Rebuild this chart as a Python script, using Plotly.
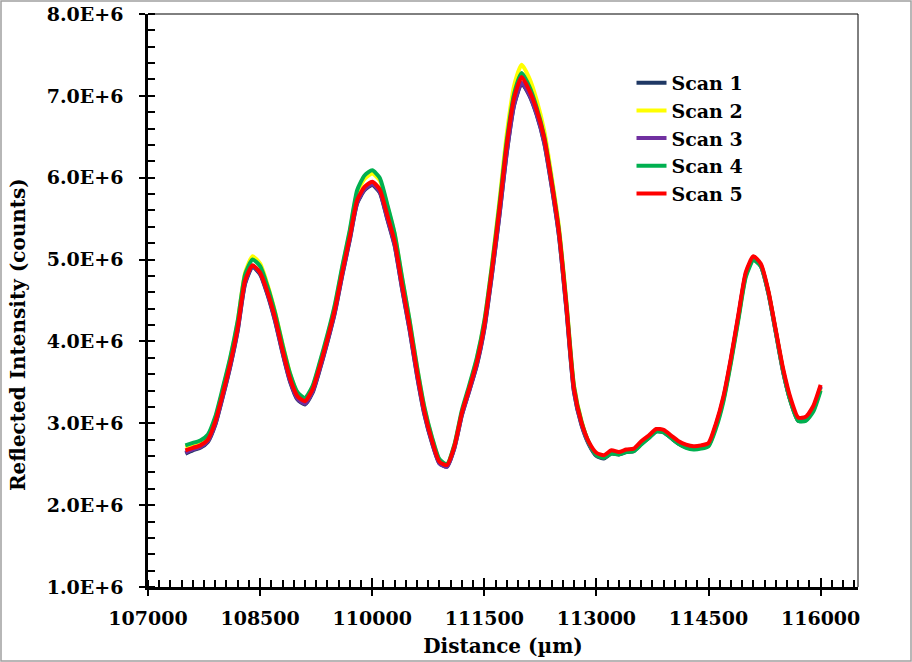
import plotly.graph_objects as go

# Distance grid (µm)
distance = list(range(107500, 116001, 100))

# Reflected intensity, in units of 1E+6 counts
scan1 = [2.63, 2.67, 2.70, 2.77, 2.98, 3.32, 3.69, 4.13, 4.71, 4.91,
         4.82, 4.57, 4.25, 3.86, 3.51, 3.29, 3.23,
         3.37, 3.66, 3.99, 4.35, 4.81, 5.24, 5.69, 5.85, 5.91,
         5.82, 5.50, 5.17, 4.64, 4.14, 3.58, 3.10, 2.76, 2.51, 2.47,
         2.70, 3.10, 3.40, 3.71, 4.15, 4.80, 5.52, 6.30, 6.89, 7.15,
         7.01, 6.77, 6.43, 5.90, 5.28, 4.37, 3.38, 2.98, 2.74, 2.60,
         2.57, 2.63, 2.62, 2.65, 2.66, 2.75, 2.82, 2.90, 2.89, 2.82,
         2.75, 2.71, 2.69, 2.70, 2.73, 2.97, 3.30, 3.77, 4.30, 4.82,
         5.01, 4.92, 4.59, 4.11, 3.62, 3.26, 3.03, 3.04, 3.17, 3.44]
scan2 = [2.71, 2.74, 2.77, 2.84, 3.06, 3.41, 3.79, 4.24, 4.84, 5.04,
         4.95, 4.69, 4.36, 3.97, 3.61, 3.37, 3.30,
         3.44, 3.73, 4.06, 4.43, 4.90, 5.34, 5.82, 5.99, 6.05,
         5.97, 5.66, 5.31, 4.77, 4.25, 3.68, 3.18, 2.82, 2.55, 2.50,
         2.73, 3.14, 3.45, 3.79, 4.24, 4.92, 5.70, 6.53, 7.13, 7.38,
         7.22, 6.95, 6.58, 6.02, 5.39, 4.47, 3.46, 3.03, 2.76, 2.62,
         2.59, 2.64, 2.63, 2.66, 2.67, 2.75, 2.83, 2.91, 2.90, 2.83,
         2.76, 2.71, 2.69, 2.70, 2.73, 2.96, 3.29, 3.76, 4.29, 4.81,
         5.01, 4.93, 4.61, 4.13, 3.64, 3.27, 3.04, 3.04, 3.16, 3.42]
scan3 = [2.64, 2.68, 2.71, 2.78, 2.99, 3.33, 3.70, 4.14, 4.72, 4.92,
         4.83, 4.58, 4.26, 3.87, 3.52, 3.30, 3.24,
         3.38, 3.67, 4.00, 4.36, 4.82, 5.25, 5.70, 5.86, 5.92,
         5.83, 5.51, 5.18, 4.65, 4.15, 3.59, 3.11, 2.77, 2.51, 2.47,
         2.70, 3.10, 3.40, 3.72, 4.16, 4.81, 5.53, 6.31, 6.90, 7.16,
         7.02, 6.78, 6.44, 5.91, 5.29, 4.38, 3.39, 2.99, 2.75, 2.61,
         2.58, 2.64, 2.63, 2.66, 2.67, 2.76, 2.83, 2.91, 2.90, 2.83,
         2.76, 2.72, 2.70, 2.71, 2.74, 2.98, 3.31, 3.78, 4.31, 4.83,
         5.02, 4.93, 4.60, 4.12, 3.63, 3.27, 3.04, 3.05, 3.18, 3.45]
scan4 = [2.73, 2.76, 2.79, 2.86, 3.08, 3.43, 3.80, 4.25, 4.82, 5.00,
         4.92, 4.67, 4.35, 3.96, 3.61, 3.38, 3.31,
         3.45, 3.75, 4.08, 4.45, 4.92, 5.36, 5.85, 6.03, 6.09,
         6.00, 5.68, 5.32, 4.78, 4.26, 3.69, 3.19, 2.83, 2.56, 2.50,
         2.74, 3.16, 3.47, 3.80, 4.25, 4.91, 5.65, 6.45, 7.03, 7.28,
         7.12, 6.86, 6.51, 5.97, 5.35, 4.45, 3.45, 3.02, 2.76, 2.61,
         2.58, 2.63, 2.62, 2.65, 2.66, 2.74, 2.82, 2.90, 2.89, 2.82,
         2.75, 2.70, 2.68, 2.69, 2.72, 2.94, 3.27, 3.74, 4.27, 4.79,
         4.99, 4.92, 4.60, 4.12, 3.63, 3.26, 3.03, 3.03, 3.14, 3.40]
scan5 = [2.67, 2.70, 2.73, 2.80, 3.02, 3.36, 3.73, 4.17, 4.75, 4.93,
         4.84, 4.60, 4.29, 3.90, 3.55, 3.33, 3.27,
         3.41, 3.70, 4.03, 4.39, 4.85, 5.28, 5.73, 5.89, 5.95,
         5.86, 5.55, 5.22, 4.69, 4.19, 3.63, 3.14, 2.79, 2.53, 2.49,
         2.72, 3.13, 3.43, 3.75, 4.20, 4.86, 5.60, 6.40, 6.98, 7.23,
         7.07, 6.83, 6.49, 5.95, 5.33, 4.42, 3.42, 3.01, 2.77, 2.64,
         2.61, 2.67, 2.65, 2.68, 2.69, 2.78, 2.85, 2.93, 2.92, 2.85,
         2.78, 2.74, 2.72, 2.73, 2.76, 3.00, 3.33, 3.80, 4.33, 4.85,
         5.04, 4.95, 4.62, 4.14, 3.66, 3.30, 3.07, 3.08, 3.21, 3.47]

series_names = ["Scan 1", "Scan 2", "Scan 3", "Scan 4", "Scan 5"]
series_values = [scan1, scan2, scan3, scan4, scan5]
series_colors = ["#1F3864", "#FFFF00", "#7030A0", "#00B050", "#FF0000"]

y_tickvals = [1e6, 2e6, 3e6, 4e6, 5e6, 6e6, 7e6, 8e6]
y_ticktext = ["1.0E+6", "2.0E+6", "3.0E+6", "4.0E+6", "5.0E+6", "6.0E+6", "7.0E+6", "8.0E+6"]
x_tickvals = [107000, 108500, 110000, 111500, 113000, 114500, 116000]
x_ticktext = ["107000", "108500", "110000", "111500", "113000", "114500", "116000"]

FONT = "DejaVu Serif"
BOLD = dict(family=FONT, size=19, color="black", weight="bold")
TITLEF = dict(family=FONT, size=20, color="black", weight="bold")

fig = go.Figure()
for name, vals, col in zip(series_names, series_values, series_colors):
    fig.add_trace(go.Scatter(
        x=distance, y=[v * 1e6 for v in vals], name=name, mode="lines",
        line=dict(color=col, width=4, shape="spline", smoothing=0.6)))

# invisible trace to activate overlay axes (inside half of crossing major ticks)
fig.add_trace(go.Scatter(x=[None], y=[None], xaxis="x2", yaxis="y2",
                         showlegend=False, hoverinfo="skip"))

W, H = 912, 662
L, R, T, B = 148, 54, 14, 75
pw, ph = W - L - R, H - T - B

fig.update_layout(
    width=W, height=H,
    margin=dict(l=L, r=R, t=T, b=B, autoexpand=False),
    paper_bgcolor="white", plot_bgcolor="white",
    font=BOLD,
    showlegend=True,
    legend=dict(x=0.681, y=0.913, xanchor="left", yanchor="top",
                bgcolor="rgba(0,0,0,0)", font=BOLD,
                itemwidth=30, tracegroupgap=0),
    xaxis=dict(range=[107000, 116500], tickvals=x_tickvals, ticktext=x_ticktext,
               ticks="outside", ticklen=6, tickwidth=2, tickcolor="black",
               showline=True, linewidth=2.5, linecolor="black",
               showgrid=False, zeroline=False, automargin=False,
               ticklabelstandoff=6,
               minor=dict(dtick=150, tick0=107000, ticks="inside", ticklen=7,
                          tickwidth=2, tickcolor="black", showgrid=False),
               tickfont=BOLD,
               title=dict(text="Distance (µm)", standoff=12, font=TITLEF)),
    yaxis=dict(range=[1e6, 8e6], tickvals=y_tickvals, ticktext=y_ticktext,
               ticks="outside", ticklen=6, tickwidth=2, tickcolor="black",
               showline=True, linewidth=2.5, linecolor="black",
               showgrid=False, zeroline=False, automargin=False,
               ticklabelstandoff=12,
               minor=dict(dtick=2e5, tick0=1e6, ticks="inside", ticklen=7,
                          tickwidth=2, tickcolor="black", showgrid=False),
               tickfont=BOLD),
    xaxis2=dict(overlaying="x", anchor="y", side="bottom", range=[107000, 116500],
                tickvals=x_tickvals, ticks="inside", ticklen=9, tickwidth=2,
                tickcolor="black", showticklabels=False, showline=False,
                showgrid=False, zeroline=False, automargin=False),
    yaxis2=dict(overlaying="y", anchor="x", side="left", range=[1e6, 8e6],
                tickvals=y_tickvals, ticks="inside", ticklen=7, tickwidth=2,
                tickcolor="black", showticklabels=False, showline=False,
                showgrid=False, zeroline=False, automargin=False),
)

# y-axis title (placed like the original, slightly below the plot centre)
fig.add_annotation(text="Reflected Intensity (counts)", textangle=-90,
                   xref="paper", yref="paper", x=(18 - L) / pw, y=(587 - 335) / ph,
                   xanchor="center", yanchor="middle", showarrow=False, font=TITLEF)

# thin top and right frame lines
fig.add_shape(type="line", xref="paper", yref="paper", x0=0, x1=1, y0=1, y1=1,
              line=dict(color="black", width=1))
fig.add_shape(type="line", xref="paper", yref="paper", x0=1, x1=1, y0=0, y1=1,
              line=dict(color="black", width=1))
# outer gray border
fig.add_shape(type="rect", xref="paper", yref="paper",
              x0=(1 - L) / pw, x1=(W - 1 - L) / pw,
              y0=-(B - 1) / ph, y1=1 + (T - 1) / ph,
              line=dict(color="#A0A0A0", width=1.5), layer="below")

fig.write_html("out.html", config={"displayModeBar": False},
               post_script="document.body.style.margin='0';")
